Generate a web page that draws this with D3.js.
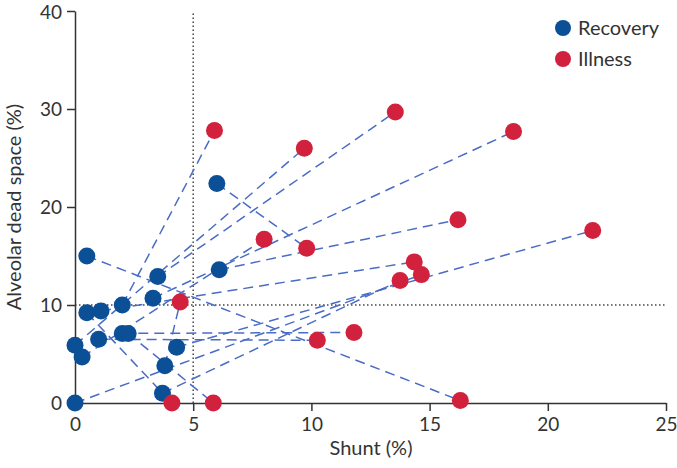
<!DOCTYPE html>
<html><head><meta charset="utf-8">
<script src="https://cdn.jsdelivr.net/npm/d3@7"></script>
<style>body{margin:0;background:#fff}svg{display:block}</style>
</head><body><svg id="c" width="677" height="468"></svg>
<script>
// Recovery (blue) and illness (red) points; index i of each array forms one patient pair
const recoveryShunt = [0, 0, 0.3, 0.5, 0.5, 1.1, 1.0, 2.0, 2.0, 2.25, 3.5, 3.3, 4.3, 3.8, 3.7, 6.1, 6.0];
const recoveryDead  = [0, 5.9, 4.7, 9.2, 15.0, 9.4, 6.5, 10.0, 7.1, 7.1, 12.9, 10.7, 5.7, 3.8, 1.0, 13.6, 22.4];
const illnessShunt  = [14.65, 9.7, 8.0, 4.1, 16.3, 14.35, 10.25, 5.9, 11.8, 5.85, 13.55, 18.55, 21.9, 4.45, 13.75, 16.2, 9.8];
const illnessDead   = [13.1, 26.0, 16.7, 0, 0.25, 14.4, 6.4, 27.8, 7.2, 0, 29.7, 27.7, 17.6, 10.3, 12.5, 18.7, 15.8];
const xTicks = [0, 5, 10, 15, 20, 25];
const yTicks = [0, 10, 20, 30, 40];
const thresholdShunt = 5, thresholdDead = 10;
const seriesNames = ["Recovery", "Illness"];
const seriesColors = ["#0b4f96", "#d2213d"];

const svg = d3.select("#c");
const font = "Lato, 'Source Sans Pro', sans-serif";
const x = d3.scaleLinear().domain([0, 25]).range([75, 666]);
const y = d3.scaleLinear().domain([0, 40]).range([403, 11]);

// reference lines
svg.append("line").attr("x1", x(thresholdShunt)).attr("x2", x(thresholdShunt)).attr("y1", y(0)).attr("y2", y(40))
  .attr("stroke", "#444").attr("stroke-width", 1.5).attr("stroke-dasharray", "1.5,2.5");
svg.append("line").attr("x1", x(0)).attr("x2", x(25)).attr("y1", y(thresholdDead)).attr("y2", y(thresholdDead))
  .attr("stroke", "#444").attr("stroke-width", 1.5).attr("stroke-dasharray", "1.5,2.5");

// axes
const xAxis = svg.append("g").attr("transform", `translate(0,${y(0)})`)
  .call(d3.axisBottom(x).tickValues(xTicks).tickSize(8).tickPadding(7).tickSizeOuter(0));
const yAxis = svg.append("g").attr("transform", `translate(${x(0)},0)`)
  .call(d3.axisLeft(y).tickValues(yTicks).tickSize(8).tickPadding(5).tickSizeOuter(0));
[xAxis, yAxis].forEach(g => {
  g.select(".domain").attr("stroke", "#333").attr("stroke-width", 1.5);
  g.selectAll(".tick line").attr("stroke", "#333").attr("stroke-width", 1.5);
  g.selectAll(".tick text").attr("fill", "#333").style("font-family", font).style("font-size", "19px");
});
yAxis.selectAll(".tick text").filter(d => d === 40).attr("dy", "0.42em");

svg.append("text").attr("x", 371).attr("y", 455).attr("text-anchor", "middle")
  .style("font-family", font).style("font-size", "20px").attr("fill", "#333").text("Shunt (%)");
svg.append("text").attr("transform", `translate(21,${y(20)}) rotate(-90)`).attr("text-anchor", "middle")
  .style("font-family", font).style("font-size", "20px").attr("fill", "#333").text("Alveolar dead space (%)");

// connecting dashed lines
const idx = d3.range(recoveryShunt.length);
svg.append("g").selectAll("line").data(idx).join("line")
  .attr("x1", i => x(recoveryShunt[i])).attr("y1", i => y(recoveryDead[i]))
  .attr("x2", i => x(illnessShunt[i])).attr("y2", i => y(illnessDead[i]))
  .attr("stroke", "#4a6cc6").attr("stroke-width", 1.5).attr("stroke-dasharray", "10,6");

// points
svg.append("g").selectAll("circle").data(idx).join("circle")
  .attr("cx", i => x(recoveryShunt[i])).attr("cy", i => y(recoveryDead[i])).attr("r", 8.5)
  .attr("fill", seriesColors[0]);
svg.append("g").selectAll("circle").data(idx).join("circle")
  .attr("cx", i => x(illnessShunt[i])).attr("cy", i => y(illnessDead[i])).attr("r", 8.5)
  .attr("fill", seriesColors[1]);

// legend
const lg = svg.append("g");
seriesNames.forEach((n, k) => {
  lg.append("circle").attr("cx", 563).attr("cy", 28 + k * 31).attr("r", 8).attr("fill", seriesColors[k]);
  lg.append("text").attr("x", 578).attr("y", 28 + k * 31).attr("dy", "0.35em")
    .style("font-family", font).style("font-size", "20px").attr("fill", "#333").text(n);
});
</script></body></html>
